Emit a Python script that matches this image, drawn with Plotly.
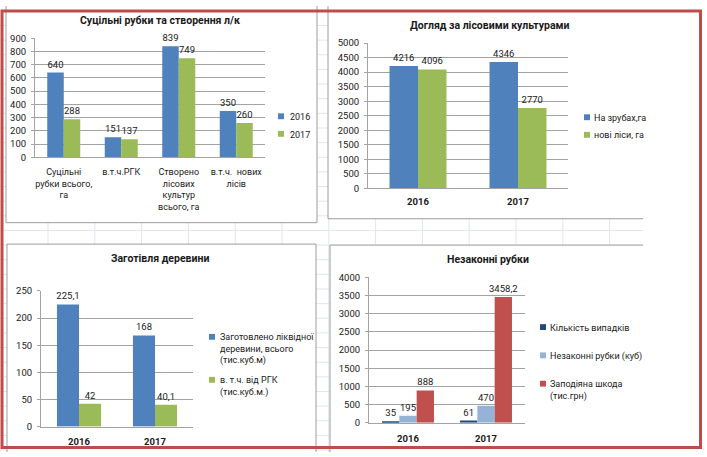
import plotly.graph_objects as go

# ---------------- DATA ----------------
c1_title = "Суцільні рубки та створення л/к"
c1_categories = ["Суцільні<br>рубки всього,<br>га", "в.т.ч.РГК",
                 "Створено<br>лісових<br>культур<br>всього, га", "в.т.ч.  нових<br>лісів"]
c1_series = ["2016", "2017"]
c1_2016 = [640, 151, 839, 350]
c1_2017 = [288, 137, 749, 260]

c2_title = "Догляд за лісовими культурами"
c2_categories = ["2016", "2017"]
c2_series = ["На зрубах,га", "нові ліси, га"]
c2_na_zrubakh = [4216, 4346]
c2_novi_lisy = [4096, 2770]

c3_title = "Заготівля деревини"
c3_categories = ["2016", "2017"]
c3_series = ["Заготовлено ліквідної<br>деревини, всього<br>(тис.куб.м)",
             "в. т.ч. від РГК<br>(тис.куб.м.)"]
c3_total = [225.1, 168]
c3_rgk = [42, 40.1]

c4_title = "Незаконні рубки"
c4_categories = ["2016", "2017"]
c4_series = ["Кількість випадків", "Незаконні рубки (куб)", "Заподіяна шкода<br>(тис.грн)"]
c4_cases = [35, 61]
c4_volume = [195, 470]
c4_damage = [888, 3458.2]

# ---------------- STYLE ----------------
W, H = 707, 457
FONT = "Roboto"
TXT = "#1a1a1a"
GRID = "#a3a3a3"
BORDER = "#9c9c9c"
SHEET = "#e2e5ee"
RED = "#BE4D4A"
BLUE, GREEN = "#4F81BD", "#9BBB59"
DARK, LIGHT, CRIMSON = "#1F497D", "#95B3D7", "#C0504D"


def px(x):
    return x / W


def py(y):
    return 1 - y / H


def fmt(v):
    return f"{v:g}".replace(".", ",")


panels = [
    dict(title=c1_title, cats=c1_categories, names=c1_series, vals=[c1_2016, c1_2017],
         colors=[BLUE, GREEN], area=(35, 265, 33, 155), ymax=900, dtick=100, barw=0.287,
         title_pos=(160, 15), cat_bold=False, cat_size=9, cat_standoff=6,
         legend=dict(sq_x=281, tx=288, ys=[113, 131])),
    dict(title=c2_title, cats=c2_categories, names=c2_series, vals=[c2_na_zrubakh, c2_novi_lisy],
         colors=[BLUE, GREEN], area=(368, 568, 38, 187), ymax=5000, dtick=500, barw=0.285,
         title_pos=(490, 20), cat_bold=True, cat_size=9.5, cat_standoff=4,
         legend=dict(sq_x=587, tx=592, ys=[114, 132])),
    dict(title=c3_title, cats=c3_categories, names=c3_series, vals=[c3_total, c3_rgk],
         colors=[BLUE, GREEN], area=(41, 193, 292, 431), ymax=250, dtick=50, barw=0.29,
         title_pos=(160, 259), cat_bold=True, cat_size=9.5, cat_standoff=6,
         legend=dict(sq_x=212, tx=218, ys=[339, 383])),
    dict(title=c4_title, cats=c4_categories, names=c4_series, vals=[c4_cases, c4_volume, c4_damage],
         colors=[DARK, LIGHT, CRIMSON], area=(369, 525, 278, 427), ymax=4000, dtick=500, barw=0.222,
         title_pos=(488, 260), cat_bold=True, cat_size=9.5, cat_standoff=7,
         legend=dict(sq_x=543, tx=548, ys=[329, 358, 387])),
]

fig = go.Figure()
shapes = []
annotations = []

# spreadsheet grid (background)
GRID_RIGHT = 643
k = 0
while 48 + 46.8 * k < GRID_RIGHT:
    x = 48 + 46.8 * k
    shapes.append(dict(type="line", xref="paper", yref="paper", x0=px(x), x1=px(x), y0=0, y1=1,
                       line=dict(color=SHEET, width=1), layer="below"))
    k += 1
y = 230 % 15
while y < H:
    shapes.append(dict(type="line", xref="paper", yref="paper", x0=0, x1=px(GRID_RIGHT), y0=py(y), y1=py(y),
                       line=dict(color=SHEET, width=1), layer="below"))
    y += 15

# chart boxes (white), with the visible grey borders
boxes = [(6, 317, 0, 222), (328, 707, 0, 218), (7, 316, 244, 457), (330, 707, 245, 457)]
for (x0, x1, y0, y1) in boxes:
    shapes.append(dict(type="rect", xref="paper", yref="paper", x0=px(x0), x1=px(x1), y0=py(y1), y1=py(y0),
                       fillcolor="white", line=dict(width=0), layer="below"))
border_lines = [
    (6, 6, 0, 222), (6, 317, 222, 222), (317, 317, 0, 222),
    (328, 328, 0, 218), (328, 643, 218, 218),
    (7, 7, 244, 457), (7, 316, 244, 244), (316, 316, 244, 457),
    (330, 330, 245, 457), (330, 643, 245, 245),
]
for (x0, x1, y0, y1) in border_lines:
    shapes.append(dict(type="line", xref="paper", yref="paper", x0=px(x0), x1=px(x1), y0=py(y0), y1=py(y1),
                       line=dict(color=BORDER, width=1), layer="below"))

for i, p in enumerate(panels, start=1):
    xa, ya = f"x{i}", f"y{i}"
    n = len(p["vals"])
    w = p["barw"]
    for j, (name, vals, col) in enumerate(zip(p["names"], p["vals"], p["colors"])):
        fig.add_trace(go.Bar(
            x=p["cats"], y=vals, name=name.replace("<br>", " "), xaxis=xa, yaxis=ya,
            marker=dict(color=col, line=dict(width=0)),
            width=w, offset=-n * w / 2 + j * w,
            text=[fmt(v) for v in vals], textposition="outside", textangle=0,
            constraintext="none", cliponaxis=False,
            textfont=dict(family=FONT, size=9.5, color=TXT),
            showlegend=False, hoverinfo="skip",
        ))
        # manual legend entry
        ly = p["legend"]["ys"][j]
        sx = p["legend"]["sq_x"]
        shapes.append(dict(type="rect", xref="paper", yref="paper",
                           x0=px(sx - 3), x1=px(sx + 3), y0=py(ly + 3), y1=py(ly - 3),
                           fillcolor=col, line=dict(width=0)))
        annotations.append(dict(text=name, xref="paper", yref="paper", x=px(p["legend"]["tx"]),
                                y=py(ly - 6.5), xanchor="left", yanchor="top", align="left",
                                showarrow=False, font=dict(family=FONT, size=9, color=TXT)))
    x0, x1, y0, y1 = p["area"]
    sfx = "" if i == 1 else str(i)
    fig.layout[f"xaxis{sfx}"] = dict(
        domain=[px(x0), px(x1)], anchor=ya, type="category", range=[-0.5, len(p["cats"]) - 0.5],
        showline=True, linecolor=GRID, linewidth=1, showgrid=False, zeroline=False, ticks="",
        tickfont=dict(family=FONT, size=p["cat_size"], color=TXT,
                      weight="bold" if p["cat_bold"] else "normal"),
        ticklabelstandoff=p["cat_standoff"], fixedrange=True,
    )
    fig.layout[f"yaxis{sfx}"] = dict(
        domain=[py(y1), py(y0)], anchor=xa, range=[0, p["ymax"]], dtick=p["dtick"], tick0=0,
        showline=True, linecolor=GRID, linewidth=1, showgrid=True, gridcolor=GRID, gridwidth=1,
        zeroline=False, ticks="outside", ticklen=3, tickcolor=GRID,
        tickfont=dict(family=FONT, size=9.5, color=TXT), ticklabelstandoff=3, fixedrange=True,
    )
    tx, ty = p["title_pos"]
    annotations.append(dict(text=p["title"], xref="paper", yref="paper", x=px(tx), y=py(ty),
                            xanchor="center", yanchor="middle", showarrow=False,
                            font=dict(family=FONT, size=10.5, color=TXT, weight="bold")))

# red outer frame
shapes.append(dict(type="rect", xref="paper", yref="paper", x0=px(2), x1=px(700.5), y0=py(452.5), y1=py(5),
                   line=dict(color=RED, width=3), fillcolor="rgba(0,0,0,0)", layer="above"))

fig.update_layout(
    width=W, height=H, margin=dict(l=0, r=0, t=0, b=0),
    paper_bgcolor="white", plot_bgcolor="rgba(0,0,0,0)",
    barmode="overlay", shapes=shapes, annotations=annotations, showlegend=False,
    font=dict(family=FONT, color=TXT),
)

fig.write_html("out.html")
